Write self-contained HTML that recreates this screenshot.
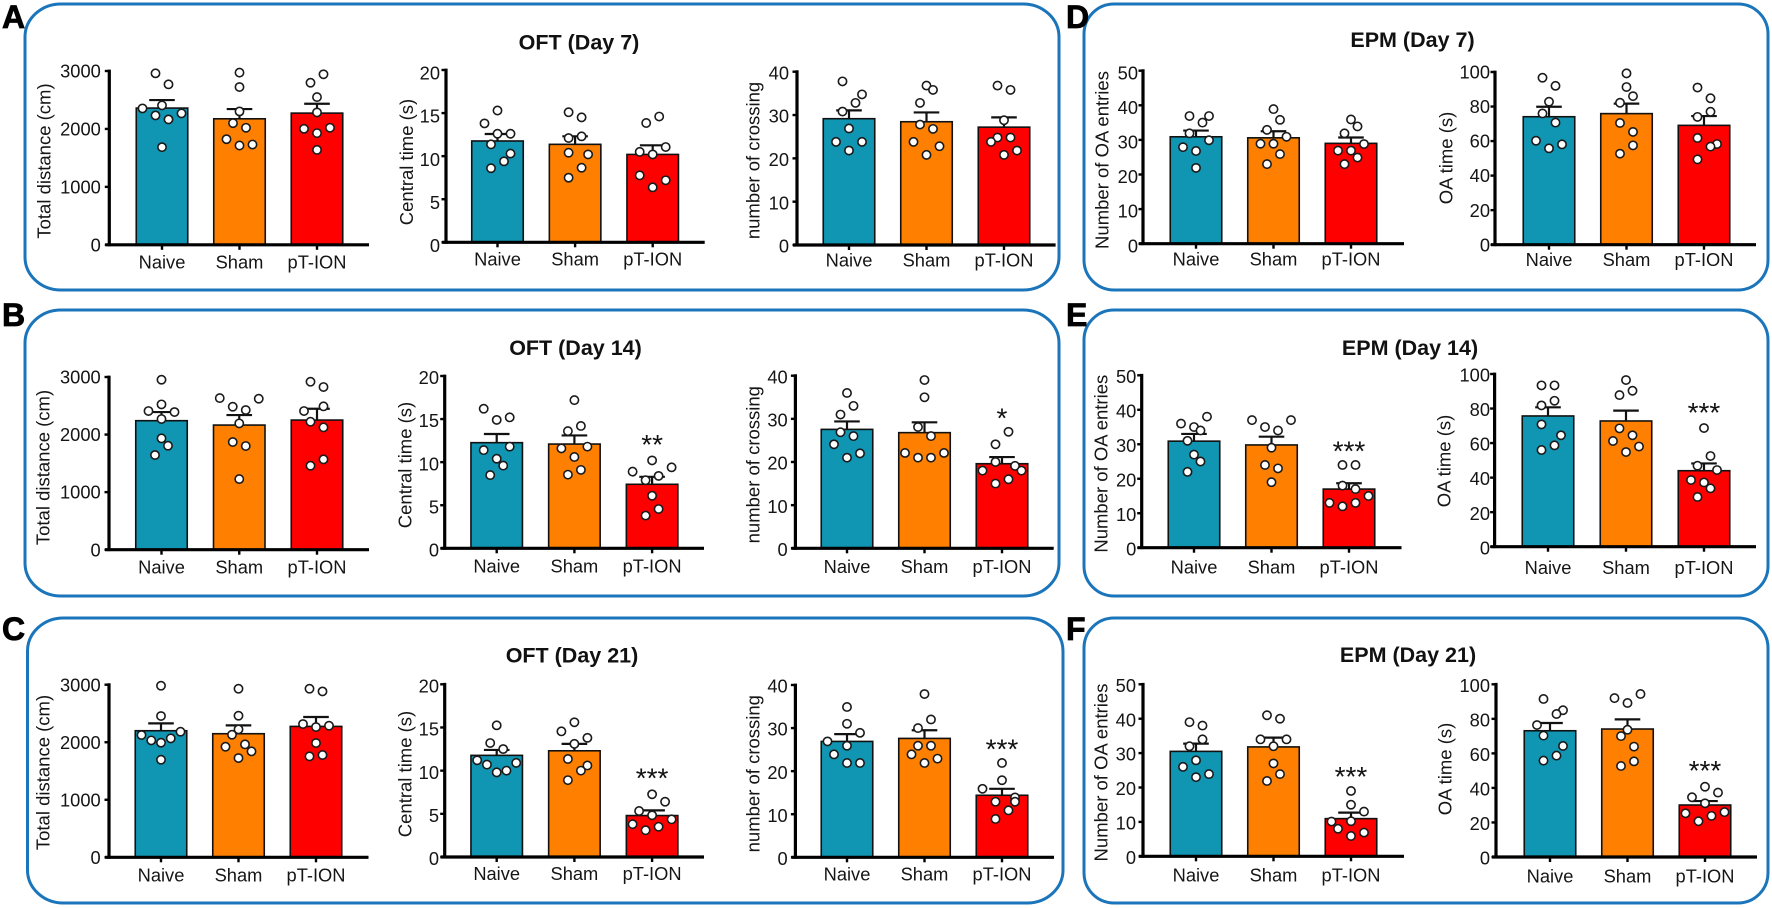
<!DOCTYPE html>
<html lang="en">
<head>
<meta charset="utf-8">
<title>OFT and EPM behaviour panels</title>
<style>
html,body{margin:0;padding:0;background:#fff;}
svg{display:block;font-family:"Liberation Sans",Arial,sans-serif;}
.panel{fill:none;stroke:#1b75bb;stroke-width:3;}
.letter{font-size:32px;font-weight:700;fill:#000;stroke:#000;stroke-width:.8;}
.title{font-size:21.5px;font-weight:700;fill:#111;text-anchor:middle;}
.tick{font-size:18.3px;fill:#151515;text-anchor:end;}
.cat{font-size:18.3px;fill:#151515;text-anchor:middle;}
.ytitle{font-size:18.5px;fill:#151515;text-anchor:middle;}
.star{font-size:28px;fill:#111;text-anchor:middle;}
</style>
</head>
<body>
<svg id="figure" xmlns="http://www.w3.org/2000/svg" width="1772" height="908" viewBox="0 0 1772 908">
  <rect width="1772" height="908" fill="#fff"/>
  <rect class="panel" x="25" y="4" width="1034" height="286" rx="36" ry="33"/>
  <rect class="panel" x="25" y="310" width="1034" height="286" rx="36" ry="33"/>
  <rect class="panel" x="27.5" y="618" width="1035.5" height="285" rx="36" ry="33"/>
  <rect class="panel" x="1084" y="4" width="684" height="286" rx="30" ry="30"/>
  <rect class="panel" x="1084" y="310" width="684" height="286" rx="30" ry="30"/>
  <rect class="panel" x="1084" y="618" width="684" height="285" rx="30" ry="30"/>
  <text class="letter" x="2" y="28">A</text>
  <text class="letter" x="2" y="326">B</text>
  <text class="letter" x="2" y="640">C</text>
  <text class="letter" x="1066" y="28">D</text>
  <text class="letter" x="1066" y="326">E</text>
  <text class="letter" x="1066" y="640">F</text>
  <text class="title" x="579" y="49.5">OFT (Day 7)</text>
  <text class="title" x="575.5" y="355">OFT (Day 14)</text>
  <text class="title" x="572" y="662.5">OFT (Day 21)</text>
  <text class="title" x="1412.5" y="47">EPM (Day 7)</text>
  <text class="title" x="1410" y="355">EPM (Day 14)</text>
  <text class="title" x="1408" y="662">EPM (Day 21)</text>
</svg>
<script>
const categories = ['Naive', 'Sham', 'pT-ION'];
const distanceTicks = [0, 1000, 2000, 3000];
const centralTicks = [0, 5, 10, 15, 20];
const crossingTicks = [0, 10, 20, 30, 40];
const entriesTicks = [0, 10, 20, 30, 40, 50];
const oaTimeTicks = [0, 20, 40, 60, 80, 100];

/* Panel A: OFT day 7 */
const a1Means = [2360, 2175, 2273];
const a1Sems = [138, 168, 162];
const a1Naive = [2960, 2770, 2354, 2406, 2233, 2268, 2164, 1685];
const a1Sham = [2972, 2723, 2302, 2100, 2020, 1823, 1714, 1731];
const a1Pt = [2943, 2798, 2550, 2285, 2002, 2020, 1927, 1639];
const a1NaiveBins = [-1, 1, -3, 0, -1, 3, 1, 0];
const a1ShamBins = [0, 0, 0, -1, 1, -2, 0, 2];
const a1PtBins = [1, -1, 0, 0, -2, 2, 0, 0];

const a2Means = [11.76, 11.37, 10.2];
const a2Sems = [0.81, 0.93, 1.06];
const a2Naive = [15.3, 13.8, 12.6, 12.6, 11.37, 10.3, 9.4, 8.6];
const a2Sham = [15.1, 14.5, 12.1, 12.3, 10.4, 10.2, 8.66, 7.5];
const a2Pt = [14.6, 13.85, 11.06, 10.5, 10.2, 7.77, 7.2, 6.38];
const a2NaiveBins = [0, -2, 0, 2, -1, 2, 1, -1];
const a2ShamBins = [-1, 1, -1, 1, -1, 2, 1, -1];
const a2PtBins = [1, -1, 2, -2, 0, -2, 2, 0];

const a3Means = [29.15, 28.45, 27.2];
const a3Sems = [1.92, 2.15, 2.25];
const a3Naive = [37.76, 34.76, 32.8, 30.8, 26.9, 23.8, 23.8, 21.8];
const a3Sham = [36.8, 35.8, 32.8, 27.8, 26.8, 23.8, 22.8, 20.8];
const a3Pt = [36.8, 35.8, 28.8, 24.8, 24.8, 23.8, 21.8, 20.8];
const a3NaiveBins = [-1, 2, 1, -1, 0, -2, 2, 0];
const a3ShamBins = [0, 1, -1, -1, 1, -2, 2, 0];
const a3PtBins = [-1, 1, 0, 1, -1, -2, 2, 0];

/* Panel B: OFT day 14 */
const b1Means = [2241, 2165, 2252];
const b1Sems = [150, 174, 197];
const b1Naive = [2953, 2524, 2409, 2391, 2270, 1934, 1806, 1644];
const b1Sham = [2634, 2623, 2484, 2426, 2194, 1870, 1801, 1227];
const b1Pt = [2918, 2826, 2490, 2409, 2223, 2125, 1569, 1459];
const b1NaiveBins = [0, 0, -2, 2, 0, 0, 1, -1];
const b1ShamBins = [-3, 3, -1, 1, 0, -1, 1, 0];
const b1PtBins = [-1, 1, 1, -2, -1, 1, 1, -1];

const b2Means = [12.26, 12.1, 7.43];
const b2Sems = [1.01, 1, 0.87];
const b2Naive = [16.2, 14.9, 15.2, 11.8, 11.4, 10.4, 9.6, 8.5];
const b2Sham = [17.2, 14.2, 13.6, 11.6, 11.8, 10.6, 9.1, 8.55];
const b2Pt = [10.2, 9.4, 8.9, 8.4, 7.9, 6.1, 4.56, 3.8];
const b2NaiveBins = [-2, 0, 2, 2, -2, 0, 1, -1];
const b2ShamBins = [0, 1, -1, -2, 2, 0, 1, -1];
const b2PtBins = [0, 3, -3, 1, -1, 0, 1, -1];

const b3Means = [27.56, 26.8, 19.6];
const b3Sems = [1.84, 2.4, 1.55];
const b3Naive = [36, 33, 31, 26.9, 26, 24.1, 22, 21];
const b3Sham = [39, 35, 28.1, 26, 22.1, 22.1, 21, 21];
const b3Pt = [27, 24.1, 20, 19.1, 18, 18, 16, 15];
const b3NaiveBins = [0, 1, -1, -1, 1, -2, 2, 0];
const b3ShamBins = [0, 0, -1, 1, -3, 3, -1, 1];
const b3PtBins = [1, -1, -1, 2, -3, 3, 1, -1];

/* Panel C: OFT day 21 */
const c1Means = [2200, 2148, 2275];
const c1Sems = [128, 145, 163];
const c1Naive = [2982, 2455, 2125, 2183, 2067, 2032, 1992, 1696];
const c1Sham = [2930, 2461, 2223, 2131, 1963, 1922, 1841, 1725];
const c1Pt = [2930, 2883, 2316, 2264, 2287, 1986, 1754, 1778];
const c1NaiveBins = [0, 0, -3, 3, 1.5, -1.5, 0, 0];
const c1ShamBins = [0, 0, 0, -1, 1, -2, 2, 0];
const c1PtBins = [-1, 1, -2, 0, 2, 0, -1, 1];

const c2Means = [11.77, 12.3, 4.8];
const c2Sems = [0.63, 0.8, 0.6];
const c2Naive = [15.25, 13.2, 12.5, 11.2, 10.9, 10.7, 10, 9.8];
const c2Sham = [15.6, 14.55, 13.8, 13.1, 11.35, 10.6, 10, 8.9];
const c2Pt = [7.26, 6.4, 5.33, 4.83, 4.36, 3.8, 3.5, 3.1];
const c2NaiveBins = [0, -1, 1, -3, 3, -1.5, 1.5, 0];
const c2ShamBins = [0, -2, 2, 0, -1, 2, 1, -1];
const c2PtBins = [0, 2, -2, 0, 3, -3, 1, -1];

const c3Means = [26.9, 27.6, 14.4];
const c3Sems = [1.7, 1.9, 1.5];
const c3Naive = [34.9, 31, 28.9, 26.9, 25.9, 23.9, 21.9, 21.9];
const c3Sham = [37.9, 32, 30, 25.9, 25.9, 23.9, 22.9, 21.9];
const c3Pt = [21.9, 17.9, 15.9, 13.9, 12.9, 12.9, 10.9, 8.9];
const c3NaiveBins = [0, 0, 2, -3, 0, -2, 0, 2];
const c3ShamBins = [0, 1, -1, -1, 1, -2, 2, 0];
const c3PtBins = [0, 0, -3, 2, 2, -1, 1, -1];

/* Panel D: EPM day 7 */
const d1Means = [30.9, 30.6, 29];
const d1Sems = [1.8, 1.9, 1.7];
const d1Naive = [36.9, 36.9, 35, 31.9, 29.9, 27.9, 26.8, 21.9];
const d1Sham = [38.9, 35.8, 32.9, 30.9, 28.9, 28.9, 25.9, 23];
const d1Pt = [35.9, 33.9, 31.9, 28.8, 26.9, 26.9, 24.9, 23];
const d1NaiveBins = [-1, 2, 1, -1, 2, -2, 0, 0];
const d1ShamBins = [0, 1, -1, 2, -2, 0, 1, -1];
const d1PtBins = [0, 1, -1, 2, -2, 0, 1, -1];

const d2Means = [74.1, 75.9, 69.1];
const d2Sems = [5.8, 5.8, 5.4];
const d2Naive = [96.7, 92, 82.8, 76, 70.7, 60.2, 58.1, 55.8];
const d2Sham = [99.2, 91.3, 86, 82.2, 70.5, 65.3, 57.5, 52.7];
const d2Pt = [91, 84.8, 77, 74, 61.8, 58.3, 56.8, 49.4];
const d2NaiveBins = [-1, 1, 0, -1, 1, -2, 2, 0];
const d2ShamBins = [0, 0, 1, -1, -1, 1, 1, -1];
const d2PtBins = [-1, 1, 1, -1, -1, 2, 1, -1];

/* Panel E: EPM day 14 */
const e1Means = [30.9, 29.8, 17];
const e1Sems = [2.1, 2.4, 1.7];
const e1Naive = [38, 36, 35, 34, 31, 27, 25, 22];
const e1Sham = [37, 37, 35, 34, 29, 24, 23, 19];
const e1Pt = [24, 24, 18, 17, 15, 13, 13, 12];
const e1NaiveBins = [2, -2, 0, 1, -1, 0, 1, -1];
const e1ShamBins = [-3, 3, -1, 1, 0, -1, 1, 0];
const e1PtBins = [-1, 1, -1, 1, 3, -3, 1, -1];

const e2Means = [75.7, 72.8, 44];
const e2Sems = [5, 6, 4.2];
const e2Naive = [93.4, 93.4, 84.5, 81.8, 70.8, 64.5, 58.7, 56];
const e2Sham = [96.5, 90.3, 87.8, 68.5, 64.5, 61.2, 58, 54.8];
const e2Pt = [68.7, 52.5, 46.9, 44.4, 38.6, 37.2, 33.8, 28.8];
const e2NaiveBins = [-1, 1, 1, -1, -1, 2, 1, -1];
const e2ShamBins = [0, 1, -1, -1, 1, -2, 2, 0];
const e2PtBins = [0, 1, -1, 2, -2, 0, 1, -1];

/* Panel F: EPM day 21 */
const f1Means = [30.5, 31.8, 10.95];
const f1Sems = [2.25, 2.7, 1.75];
const f1Naive = [39, 38, 34, 32, 27.9, 26, 23.9, 23];
const f1Sham = [41, 40, 34, 34, 32, 27, 23.9, 21.9];
const f1Pt = [19, 15, 13, 10.1, 10.2, 8, 6.9, 5.9];
const f1NaiveBins = [-1, 1, 1, -1, 0, -2, 2, 0];
const f1ShamBins = [-1, 1, -2, 2, 0, 0, 1, -1];
const f1PtBins = [0, 0, 2, -3, 0, -2, 2, 0];

const f2Means = [73.1, 74.1, 30.1];
const f2Sems = [4.5, 5.6, 2.3];
const f2Naive = [91.5, 85, 82.8, 76.4, 70.3, 64.3, 58.7, 55.8];
const f2Sham = [94.4, 92, 89.2, 73.7, 70, 63.9, 55.4, 52.7];
const f2Pt = [40.7, 37.3, 34.6, 31.1, 26, 25.3, 23.8, 20.7];
const f2NaiveBins = [-1, 2, 1, -2, -1, 2, 1, -1];
const f2ShamBins = [2, -2, 0, 0, -1, 1, 1, -1];
const f2PtBins = [0, 2, -2, 0, 3, -3, 1, -1];

const charts = [
 {id:'a1',label:'Total distance (cm)',ticks:distanceTicks,means:a1Means,sems:a1Sems,groups:[a1Naive,a1Sham,a1Pt],bins:[a1NaiveBins,a1ShamBins,a1PtBins],
  ax:109.3,top:71,y0:244.8,xEnd:369,c0:162,step:77.5,tickGap:8.5,tickDy:0,catDy:23.5,ltx:44,lty:161},
 {id:'a2',label:'Central time (s)',ticks:centralTicks,means:a2Means,sems:a2Sems,groups:[a2Naive,a2Sham,a2Pt],bins:[a2NaiveBins,a2ShamBins,a2PtBins],
  ax:446,top:70,y0:242.3,xEnd:704.7,c0:497.5,step:77.6,tickGap:6,tickDy:3,catDy:23.4,ltx:406.4,lty:162},
 {id:'a3',label:'number of crossing',ticks:crossingTicks,means:a3Means,sems:a3Sems,groups:[a3Naive,a3Sham,a3Pt],bins:[a3NaiveBins,a3ShamBins,a3PtBins],
  ax:797,top:71.7,y0:245,xEnd:1055.6,c0:849,step:77.5,tickGap:8,tickDy:1,catDy:21.7,ltx:753,lty:160.5},
 {id:'d1',label:'Number of OA entries',ticks:entriesTicks,means:d1Means,sems:d1Sems,groups:[d1Naive,d1Sham,d1Pt],bins:[d1NaiveBins,d1ShamBins,d1PtBins],
  ax:1143,top:70.7,y0:243.7,xEnd:1404,c0:1196,step:77.5,tickGap:5,tickDy:2,catDy:22,ltx:1102,lty:160},
 {id:'d2',label:'OA time (s)',ticks:oaTimeTicks,means:d2Means,sems:d2Sems,groups:[d2Naive,d2Sham,d2Pt],bins:[d2NaiveBins,d2ShamBins,d2PtBins],
  ax:1495,top:72,y0:244.7,xEnd:1756,c0:1549,step:77.5,tickGap:5,tickDy:0,catDy:21.5,ltx:1446,lty:158},
 {id:'b1',label:'Total distance (cm)',ticks:distanceTicks,means:b1Means,sems:b1Sems,groups:[b1Naive,b1Sham,b1Pt],bins:[b1NaiveBins,b1ShamBins,b1PtBins],
  ax:109,top:377,y0:549.7,xEnd:369,c0:161.5,step:77.75,tickGap:8.3,tickDy:0,catDy:23.7,ltx:43,lty:467.5},
 {id:'b2',label:'Central time (s)',ticks:centralTicks,means:b2Means,sems:b2Sems,groups:[b2Naive,b2Sham,b2Pt],bins:[b2NaiveBins,b2ShamBins,b2PtBins],star:'**',starValue:12.8,
  ax:444.7,top:376,y0:548.3,xEnd:704,c0:496.7,step:77.7,tickGap:5.7,tickDy:1.5,catDy:24,ltx:405,lty:465},
 {id:'b3',label:'number of crossing',ticks:crossingTicks,means:b3Means,sems:b3Sems,groups:[b3Naive,b3Sham,b3Pt],bins:[b3NaiveBins,b3ShamBins,b3PtBins],star:'*',starValue:31.65,
  ax:795.4,top:375.7,y0:548.3,xEnd:1053.7,c0:847,step:77.5,tickGap:7.7,tickDy:1,catDy:24.7,ltx:753,lty:464.7},
 {id:'e1',label:'Number of OA entries',ticks:entriesTicks,means:e1Means,sems:e1Sems,groups:[e1Naive,e1Sham,e1Pt],bins:[e1NaiveBins,e1ShamBins,e1PtBins],star:'***',starValue:30,
  ax:1141.7,top:375.3,y0:547.7,xEnd:1401.5,c0:1194,step:77.5,tickGap:5.4,tickDy:1,catDy:25.6,ltx:1101,lty:463.7},
 {id:'e2',label:'OA time (s)',ticks:oaTimeTicks,means:e2Means,sems:e2Sems,groups:[e2Naive,e2Sham,e2Pt],bins:[e2NaiveBins,e2ShamBins,e2PtBins],star:'***',starValue:81.4,
  ax:1494.6,top:374,y0:546.7,xEnd:1756,c0:1548,step:78,tickGap:4.6,tickDy:1,catDy:27.3,ltx:1444,lty:461},
 {id:'c1',label:'Total distance (cm)',ticks:distanceTicks,means:c1Means,sems:c1Sems,groups:[c1Naive,c1Sham,c1Pt],bins:[c1NaiveBins,c1ShamBins,c1PtBins],
  ax:109,top:684.7,y0:857.3,xEnd:368.5,c0:161,step:77.5,tickGap:8.3,tickDy:0,catDy:24.3,ltx:43,lty:772.5},
 {id:'c2',label:'Central time (s)',ticks:centralTicks,means:c2Means,sems:c2Sems,groups:[c2Naive,c2Sham,c2Pt],bins:[c2NaiveBins,c2ShamBins,c2PtBins],star:'***',starValue:9.9,
  ax:444.7,top:684.3,y0:857,xEnd:704,c0:496.7,step:77.7,tickGap:5.7,tickDy:1.5,catDy:23,ltx:405,lty:774},
 {id:'c3',label:'number of crossing',ticks:crossingTicks,means:c3Means,sems:c3Sems,groups:[c3Naive,c3Sham,c3Pt],bins:[c3NaiveBins,c3ShamBins,c3PtBins],star:'***',starValue:26.7,
  ax:795.4,top:685,y0:857.3,xEnd:1054,c0:847,step:77.5,tickGap:7.7,tickDy:1,catDy:23.4,ltx:753,lty:773.7},
 {id:'f1',label:'Number of OA entries',ticks:entriesTicks,means:f1Means,sems:f1Sems,groups:[f1Naive,f1Sham,f1Pt],bins:[f1NaiveBins,f1ShamBins,f1PtBins],star:'***',starValue:25.1,
  ax:1143,top:684.3,y0:856.3,xEnd:1404,c0:1196,step:77.5,tickGap:7,tickDy:1,catDy:25.4,ltx:1101,lty:772.5},
 {id:'f2',label:'OA time (s)',ticks:oaTimeTicks,means:f2Means,sems:f2Sems,groups:[f2Naive,f2Sham,f2Pt],bins:[f2NaiveBins,f2ShamBins,f2PtBins],star:'***',starValue:53.9,
  ax:1496,top:684.3,y0:857,xEnd:1757,c0:1550,step:77.5,tickGap:6,tickDy:1,catDy:25.3,ltx:1445,lty:769}
];

const barColors = ['#1095b2', '#ff8000', '#ff0000'];
const groupNames = ['naive', 'sham', 'pt-ion'];
const BAR_W = 51.5, CAP_W = 25.6, BIN_W = 6.5, DOT_R = 4.15;
const NS = 'http://www.w3.org/2000/svg';
const figure = document.getElementById('figure');

function make(tag, parent, attrs) {
  const el = document.createElementNS(NS, tag);
  for (const k in attrs) el.setAttribute(k, attrs[k]);
  parent.appendChild(el);
  return el;
}

function drawChart(c) {
  const maxV = c.ticks[c.ticks.length - 1];
  const yScale = v => c.y0 - (v / maxV) * (c.y0 - c.top);
  const xScale = i => c.c0 + i * c.step;

  const g = make('g', figure, {});
  
  

  c.means.forEach((m, i) => {
    const cx = xScale(i);
    const bar = make('rect', g, {x: cx - BAR_W / 2, y: yScale(m), width: BAR_W, height: c.y0 - yScale(m),
      fill: barColors[i], stroke: '#111', 'stroke-width': 1.6});
    
    

    const errTop = yScale(m + c.sems[i]);
    const stem = make('line', g, {x1: cx, x2: cx, y1: yScale(m), y2: errTop, stroke: '#111', 'stroke-width': 2.2});
    
    
    const cap = make('line', g, {x1: cx - CAP_W / 2, x2: cx + CAP_W / 2, y1: errTop, y2: errTop, stroke: '#111', 'stroke-width': 2.2});
    
    
  });

  const yAxis = make('line', g, {x1: c.ax, x2: c.ax, y1: c.top - 1.4, y2: c.y0 + 1.4, stroke: '#000', 'stroke-width': 3.2});
  
  
  const xAxis = make('line', g, {x1: c.ax - 4, x2: c.xEnd, y1: c.y0, y2: c.y0, stroke: '#000', 'stroke-width': 3.2});
  
  

  c.ticks.forEach(t => {
    const y = yScale(t);
    const mark = make('line', g, {x1: c.ax - 4.5, x2: c.ax, y1: y, y2: y, stroke: '#000', 'stroke-width': 2.4});
    
    
    const lab = make('text', g, {class: 'tick', x: c.ax - c.tickGap, y: y + 6.6 + c.tickDy});
    lab.textContent = t;
    
    
  });

  categories.forEach((name, i) => {
    const cx = xScale(i);
    const mark = make('line', g, {x1: cx, x2: cx, y1: c.y0, y2: c.y0 + 5, stroke: '#000', 'stroke-width': 2.4});
    
    
    const lab = make('text', g, {class: 'cat', x: cx, y: c.y0 + c.catDy});
    lab.textContent = name;
    
    
  });

  const yTitle = make('text', g, {class: 'ytitle', transform: 'translate(' + (c.ltx + 6.5) + ' ' + c.lty + ') rotate(-90)'});
  yTitle.textContent = c.label;
  
  

  c.groups.forEach((vals, i) => {
    vals.forEach((v, k) => {
      const dot = make('circle', g, {cx: xScale(i) + c.bins[i][k] * BIN_W, cy: yScale(v), r: DOT_R,
        fill: '#fff', stroke: '#1a1a1a', 'stroke-width': 1.6});
      
      
    });
  });

  if (c.star) {
    const s = make('text', g, {class: 'star', x: xScale(2), y: yScale(c.starValue) + 16});
    s.textContent = c.star;
    
    
  }
}

charts.forEach(drawChart);
</script>
</body>
</html>
